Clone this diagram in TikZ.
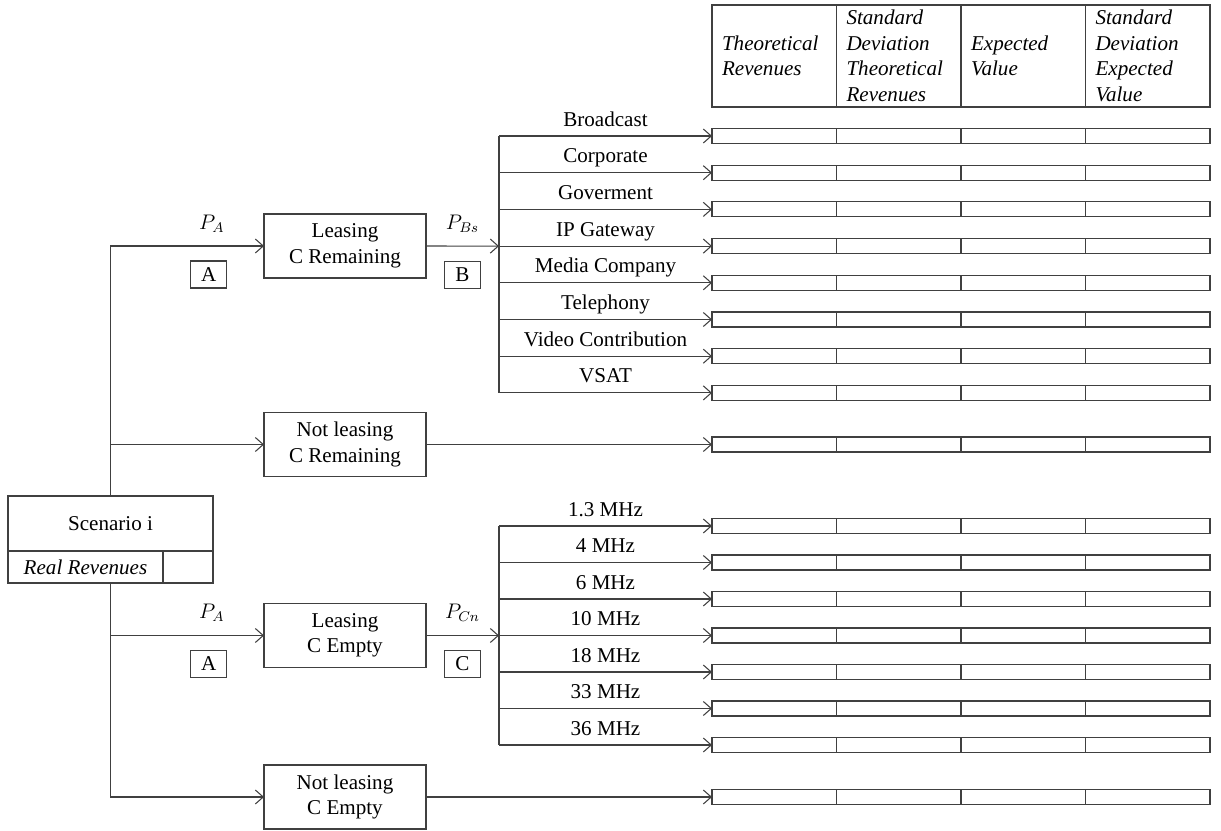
\documentclass[tikz,border=0pt,12pt]{standalone}
\usepackage{fontspec}
\setmainfont{Liberation Serif}
\usetikzlibrary{positioning,arrows.meta}

\begin{document}
\begin{tikzpicture}[x=0.02cm, y=-0.02cm,
  line/.style={draw=black!75, line width=0.6pt},
  arr/.style={line, -{Straight Barb[length=4.5pt, width=8pt]}},
  box/.style={rectangle, draw=black!75, line width=0.6pt, outer sep=0pt},
  block/.style={box, minimum width=3.24cm, minimum height=1.28cm, align=center, inner sep=2pt},
  tag/.style={box, minimum width=0.72cm, minimum height=0.54cm, inner sep=0pt},
  cell/.style={box, minimum width=2.49cm, minimum height=0.3cm, inner sep=0pt},
  head/.style={box, minimum height=2.04cm, text width=2.09cm, inner xsep=0.2cm, inner ysep=0.5pt, align=left, font=\itshape}]
  \useasboundingbox (0,0) rectangle (1221,831);

  % header of the table
  \node[head] (h1) at (774.25, 56) {Theoretical Revenues};
  \node[head] (h2) at (898.75, 56) {Standard Deviation Theoretical Revenues};
  \node[head] (h3) at (1023.25, 56) {Expected Value};
  \node[head] (h4) at (1147.75, 56) {Standard Deviation Expected Value};

  % scenario
  \node[box, minimum width=4.1cm, minimum height=1.1cm] (scen) at (110.5, 523.5) {Scenario i};
  \node[box, minimum width=3.1cm, minimum height=0.64cm, font=\itshape] (real) at (85.5, 567) {Real Revenues};
  \node[box, minimum width=1cm, minimum height=0.64cm] (realval) at (188, 567) {};
  \coordinate (trunk) at (scen.south |- real.south);

  % branches
  \node[block] (lr) at (345, 246) {Leasing\\C Remaining};
  \node[block] (nlr) at (345, 444.5) {Not leasing\\C Remaining};
  \node[block] (le) at (345, 635.5) {Leasing\\C Empty};
  \node[block] (nle) at (345, 797) {Not leasing\\C Empty};

  \draw[arr] (scen.north) |- node[pos=0.83, above=0.12cm] {$P_A$} node[pos=0.82, below=0.3cm, tag] {A} (lr.west);
  \draw[arr] (scen.north) |- (nlr.west);
  \draw[arr] (trunk) |- node[pos=0.83, above=0.12cm] {$P_A$} node[pos=0.82, below=0.3cm, tag] {A} (le.west);
  \draw[arr] (trunk) |- (nle.west);

  % services
  \foreach \lab [count=\i] in {Broadcast, Corporate, Goverment, IP Gateway, Media Company, Telephony, Video Contribution, VSAT} {
    \coordinate (ub\i) at (499, {136+(\i-1)*36.7});
    \foreach \j in {1,...,4}
      \node[cell] (u\i-\j) at ({712+(\j-0.5)*124.5}, {136+(\i-1)*36.7}) {};
    \draw[arr] (ub\i) -- node[above, text depth=0.25ex] {\lab} (u\i-1.west);
  }
  \draw[line] (ub1) -- (ub8);
  \draw[arr] (lr.east) -- node[above=0.12cm] {$P_{Bs}$} node[below=0.3cm, tag] {B} (ub4);

  % bandwidths
  \foreach \lab [count=\i] in {1.3 MHz, 4 MHz, 6 MHz, 10 MHz, 18 MHz, 33 MHz, 36 MHz} {
    \coordinate (lb\i) at (499, {526+(\i-1)*36.5});
    \foreach \j in {1,...,4}
      \node[cell] (l\i-\j) at ({712+(\j-0.5)*124.5}, {526+(\i-1)*36.5}) {};
    \draw[arr] (lb\i) -- node[above, text depth=0.25ex] {\lab} (l\i-1.west);
  }
  \draw[line] (lb1) -- (lb7);
  \draw[arr] (le.east) -- node[above=0.12cm] {$P_{Cn}$} node[below=0.3cm, tag] {C} (lb4);

  % not leasing rows
  \foreach \r/\y in {m/444.5, n/797}
    \foreach \j in {1,...,4}
      \node[cell] (\r-\j) at ({712+(\j-0.5)*124.5}, \y) {};
  \draw[arr] (nlr.east) -- (m-1.west);
  \draw[arr] (nle.east) -- (n-1.west);
\end{tikzpicture}
\end{document}
